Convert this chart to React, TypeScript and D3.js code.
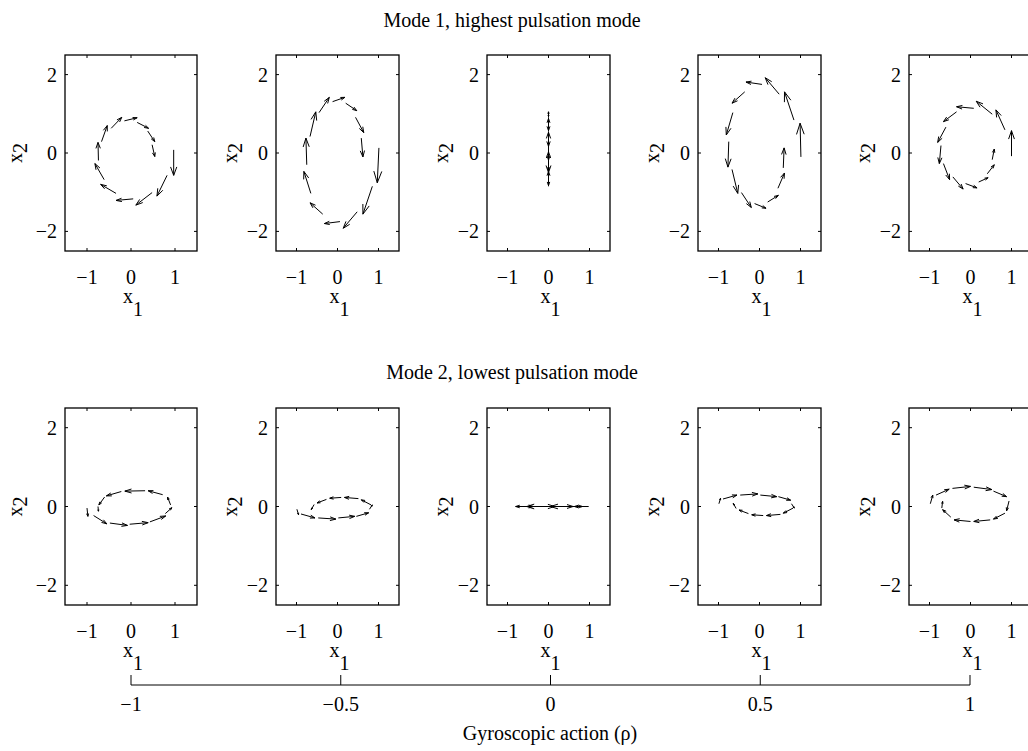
import React from "react";
import * as d3 from "d3";

// gyroscopic coupling of each column
const rhoValues = [-1, -0.5, 0, 0.5, 1];
const rhoTickLabels = ["−1", "−0.5", "0", "0.5", "1"];
const xTicks = [-1, 0, 1];
const yTicks = [-2, 0, 2];
const tickText = (v: number) => (v < 0 ? "−" + Math.abs(v) : String(v));
const modeTitles = ["Mode 1, highest pulsation mode", "Mode 2, lowest pulsation mode"];

type Arrow = [number, number, number, number]; // x, y, u, v

// Mode 1, one array per rho
const mode1RhoM1: Arrow[] = [
  [0.97, 0.08, 0, -0.65], [0.82, -0.57, -0.23, -0.53], [0.48, -1.01, -0.37, -0.32],
  [0.05, -1.17, -0.39, -0.04], [-0.34, -1.03, -0.35, 0.23], [-0.61, -0.68, -0.21, 0.41],
  [-0.74, -0.19, -0.01, 0.46], [-0.67, 0.29, 0.13, 0.41], [-0.45, 0.63, 0.24, 0.28],
  [-0.15, 0.82, 0.29, 0.08], [0.14, 0.78, 0.26, -0.15], [0.38, 0.56, 0.16, -0.27],
  [0.48, 0.21, 0.06, -0.3],
];
const mode1RhoM05: Arrow[] = [
  [1.01, 0.13, -0.04, -0.89], [0.85, -0.85, -0.23, -0.71], [0.48, -1.5, -0.34, -0.42],
  [0.06, -1.75, -0.38, -0.05], [-0.36, -1.56, -0.31, 0.29], [-0.65, -1.03, -0.17, 0.56],
  [-0.75, -0.3, -0.02, 0.68], [-0.67, 0.42, 0.14, 0.63], [-0.45, 1.03, 0.25, 0.39],
  [-0.12, 1.31, 0.3, 0.11], [0.2, 1.27, 0.27, -0.19], [0.44, 0.91, 0.2, -0.39],
  [0.58, 0.38, 0.04, -0.48],
];
const mode1Rho0: Arrow[] = [
  [0, 0.05, 0, -0.55], [0, -0.55, 0, -0.28], [0, -0.85, 0, 0.05], [0, -0.8, 0, 0.33],
  [0, -0.45, 0, 0.48], [0, 0.05, 0, 0.48], [0, 0.55, 0, 0.33], [0, 0.9, 0, 0.15],
  [0, 1.05, 0, -0.12], [0, 0.9, 0, -0.33], [0, 0.55, 0, -0.38], [0, 0.15, 0, -0.33],
  [0, -0.2, 0, -0.25],
];
const mode1Rho05: Arrow[] = [
  [1.01, -0.1, -0.02, 0.86], [0.84, 0.84, -0.23, 0.72], [0.48, 1.5, -0.34, 0.42],
  [0.06, 1.75, -0.39, 0.06], [-0.36, 1.56, -0.31, -0.29], [-0.65, 1.03, -0.16, -0.57],
  [-0.75, 0.29, -0.02, -0.65], [-0.67, -0.42, 0.14, -0.61], [-0.44, -1.01, 0.24, -0.38],
  [-0.12, -1.29, 0.28, -0.12], [0.2, -1.25, 0.26, 0.17], [0.45, -0.9, 0.16, 0.39],
  [0.58, -0.38, 0.02, 0.51],
];
const mode1Rho1: Arrow[] = [
  [1.0, -0.08, 0, 0.65], [0.84, 0.59, -0.22, 0.51], [0.53, 0.99, -0.39, 0.33],
  [0.08, 1.14, -0.42, 0.04], [-0.34, 1.05, -0.32, -0.25], [-0.6, 0.66, -0.2, -0.39],
  [-0.72, 0.19, -0.04, -0.46], [-0.66, -0.27, 0.15, -0.41], [-0.43, -0.61, 0.25, -0.31],
  [-0.12, -0.78, 0.28, -0.11], [0.2, -0.74, 0.23, 0.11], [0.41, -0.53, 0.17, 0.23],
  [0.53, -0.17, 0.05, 0.27],
];

// Mode 2, one array per rho
const mode2RhoM1: Arrow[] = [
  [-1.0, -0.04, 0.02, -0.21], [-0.85, -0.23, 0.3, -0.21], [-0.48, -0.42, 0.4, -0.06],
  [-0.03, -0.45, 0.42, 0.04], [0.43, -0.39, 0.36, 0.15], [0.78, -0.18, 0.15, 0.15],
  [0.9, 0.04, -0.07, 0.2], [0.72, 0.3, -0.33, 0.1], [0.32, 0.4, -0.46, -0.01],
  [-0.22, 0.38, -0.34, -0.11], [-0.6, 0.24, -0.13, -0.2], [-0.75, 0.0, 0.01, -0.12],
];
const mode2RhoM05: Arrow[] = [
  [-0.99, -0.07, 0.04, -0.14], [-0.89, -0.19, 0.34, -0.1], [-0.47, -0.29, 0.43, -0.03],
  [0.02, -0.29, 0.4, 0.04], [0.46, -0.25, 0.3, 0.09], [0.78, -0.07, 0.07, 0.11],
  [0.82, 0.04, -0.24, 0.13], [0.51, 0.2, -0.34, 0.03], [0.09, 0.23, -0.28, -0.02],
  [-0.27, 0.18, -0.23, -0.09], [-0.57, 0.05, -0.07, -0.13],
];
const mode2Rho0: Arrow[] = [
  [0.98, 0, -0.35, 0], [0.6, 0, -0.55, 0], [0.02, 0, -0.55, 0], [-0.5, 0, -0.3, 0],
  [-0.8, 0, 0.05, 0], [-0.72, 0, 0.35, 0], [-0.35, 0, 0.5, 0], [0.15, 0, 0.45, 0],
  [0.58, 0, 0.25, 0], [0.82, 0, -0.08, 0],
];
const mode2Rho05: Arrow[] = [
  [-0.99, 0.07, 0.04, 0.14], [-0.89, 0.19, 0.34, 0.1], [-0.47, 0.29, 0.43, 0.03],
  [0.02, 0.29, 0.4, -0.04], [0.46, 0.25, 0.3, -0.09], [0.78, 0.07, 0.07, -0.11],
  [0.82, -0.04, -0.24, -0.13], [0.51, -0.2, -0.34, -0.03], [0.09, -0.23, -0.28, 0.02],
  [-0.27, -0.18, -0.23, 0.09], [-0.57, -0.05, -0.07, 0.13],
];
const mode2Rho1: Arrow[] = [
  [-0.98, 0.07, 0.06, 0.22], [-0.84, 0.29, 0.32, 0.15], [-0.44, 0.46, 0.44, 0.05],
  [0.08, 0.49, 0.44, -0.06], [0.56, 0.39, 0.32, -0.14], [0.94, 0.14, -0.06, -0.25],
  [0.84, -0.17, -0.28, -0.15], [0.48, -0.34, -0.4, -0.04], [0.0, -0.38, -0.4, 0.04],
  [-0.48, -0.27, -0.2, 0.19], [-0.7, -0.04, 0.02, 0.17],
];

const modes: Arrow[][][] = [
  [mode1RhoM1, mode1RhoM05, mode1Rho0, mode1Rho05, mode1Rho1],
  [mode2RhoM1, mode2RhoM05, mode2Rho0, mode2Rho05, mode2Rho1],
];

// layout
const W = 1028;
const H = 751;
const panelLeft = [65, 276, 487, 698, 909];
const panelWidth = [132, 123, 123, 123, 123];
const rowTop = [55, 408];
const rowBottom = [251, 605];
const titleY = [27, 379];
const font = "'Liberation Serif', 'Times New Roman', serif";
const fs = 20;

function quiverPath(a: Arrow, x: d3.ScaleLinear<number, number>, y: d3.ScaleLinear<number, number>) {
  const [x0, y0, u, v] = a;
  const alpha = 0.33, beta = 0.33;
  const x1 = x0 + u, y1 = y0 + v;
  const hx1 = x1 - alpha * (u + beta * v), hy1 = y1 - alpha * (v - beta * u);
  const hx2 = x1 - alpha * (u - beta * v), hy2 = y1 - alpha * (v + beta * u);
  const p = d3.path();
  p.moveTo(x(x0), y(y0));
  p.lineTo(x(x1), y(y1));
  p.moveTo(x(hx1), y(hy1));
  p.lineTo(x(x1), y(y1));
  p.lineTo(x(hx2), y(hy2));
  return p.toString();
}

function Panel({ row, col }: { row: number; col: number }) {
  const left = panelLeft[col];
  const right = left + panelWidth[col];
  const top = rowTop[row];
  const bottom = rowBottom[row];
  const x = d3.scaleLinear().domain([-1.5, 1.5]).range([left, right]);
  const y = d3.scaleLinear().domain([-2.5, 2.5]).range([bottom, top]);
  const cx = x(0);
  const cy = y(0);
  const tl = 3;
  const ylx = col === 0 ? left - 43 : left - 39;
  return (
    <g>
      {modes[row][col].map((a, i) => (
        <path key={i} d={quiverPath(a, x, y)} fill="none" stroke="#000" strokeWidth={1} />
      ))}
      {xTicks.map((t) => (
        <g key={"x" + t}>
          <line x1={x(t)} x2={x(t)} y1={bottom} y2={bottom - tl} stroke="#000" />
          <line x1={x(t)} x2={x(t)} y1={top} y2={top + tl} stroke="#000" />
          <text x={x(t)} y={bottom + 33} textAnchor="middle" fontSize={fs} fontFamily={font}>
            {tickText(t)}
          </text>
        </g>
      ))}
      {yTicks.map((t) => (
        <g key={"y" + t}>
          <line x1={left} x2={left + tl} y1={y(t)} y2={y(t)} stroke="#000" />
          <line x1={right} x2={right - tl} y1={y(t)} y2={y(t)} stroke="#000" />
          <text x={left - 8} y={y(t)} dy="0.35em" textAnchor="end" fontSize={fs} fontFamily={font}>
            {tickText(t)}
          </text>
        </g>
      ))}
      <rect x={left} y={top} width={right - left} height={bottom - top} fill="none" stroke="#000" strokeWidth={1.3} />
      <text x={cx + 2} y={bottom + 52} textAnchor="middle" fontSize={fs} fontFamily={font}>
        x<tspan dy={13}>1</tspan>
      </text>
      <text transform={`translate(${ylx},${cy}) rotate(-90)`} textAnchor="middle" fontSize={fs} fontFamily={font}>
        x<tspan dy={5}>2</tspan>
      </text>
    </g>
  );
}

export default function App() {
  const rho = d3.scaleLinear().domain([-1, 1]).range([131, 970]);
  const axisY = 685;
  return (
    <svg width={W} height={H} style={{ position: "absolute", left: 0, top: 0, background: "#fff" }}>
      <rect width={W} height={H} fill="#fff" />
      {modeTitles.map((t, r) => (
        <text key={t} x={512} y={titleY[r]} textAnchor="middle" fontSize={fs} fontFamily={font}>
          {t}
        </text>
      ))}
      {[0, 1].map((r) => rhoValues.map((_, c) => <Panel key={r + "-" + c} row={r} col={c} />))}
      <line x1={rho(-1)} x2={rho(1)} y1={axisY} y2={axisY} stroke="#000" strokeWidth={1} />
      {rhoValues.map((v, i) => (
        <g key={v}>
          <line x1={rho(v)} x2={rho(v)} y1={axisY} y2={axisY - 10} stroke="#000" />
          <text x={rho(v)} y={axisY + 26} textAnchor="middle" fontSize={fs} fontFamily={font}>
            {rhoTickLabels[i]}
          </text>
        </g>
      ))}
      <text x={550} y={axisY + 55} textAnchor="middle" fontSize={fs} fontFamily={font}>
        Gyroscopic action (ρ)
      </text>
    </svg>
  );
}
